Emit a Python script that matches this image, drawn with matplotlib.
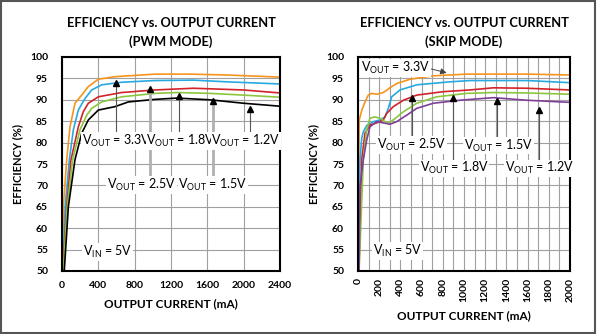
import matplotlib
matplotlib.use('Agg')
import matplotlib.pyplot as plt
from matplotlib.patches import Rectangle

plt.rcParams['font.family'] = ['Lato', 'DejaVu Sans']

# PWM mode curves (mA, %)
pwm_33_i = [2, 15, 52, 88, 143, 217, 290, 400, 583, 1024, 1400, 1813, 2400]
pwm_33_e = [50, 65, 76, 83.7, 89.2, 91.1, 93.1, 94.8, 95.4, 96.0, 96.0, 95.8, 95.3]
pwm_25_i = [6, 35, 81, 125, 180, 253, 327, 437, 657, 1024, 1446, 1813, 2400]
pwm_25_e = [50, 65, 76, 83.0, 87.6, 90.3, 92.3, 93.5, 94.1, 94.5, 94.6, 94.2, 93.7]
pwm_18_i = [10, 50, 99, 180, 234, 290, 400, 657, 1024, 1446, 1996, 2400]
pwm_18_e = [50, 65, 76, 83.7, 87.2, 89.2, 90.7, 91.7, 92.3, 92.7, 92.3, 91.6]
pwm_15_i = [14, 58, 117, 198, 272, 327, 437, 657, 1024, 1263, 1629, 1996, 2400]
pwm_15_e = [50, 65, 76, 83.0, 86.4, 88.0, 89.5, 90.7, 91.5, 91.7, 91.5, 91.1, 90.6]
pwm_12_i = [25, 70, 143, 217, 290, 400, 583, 730, 1024, 1263, 1629, 1996, 2400]
pwm_12_e = [50, 65, 76, 82.2, 85.3, 87.6, 88.4, 89.5, 90.1, 90.4, 90.0, 89.2, 88.5]

# SKIP mode curves (mA, %)
skp_33_i = [2, 5, 12, 35, 66, 97, 129, 176, 239, 302, 365, 491, 711, 1025, 1277, 1600, 2000]
skp_33_e = [50, 70, 85.3, 87.5, 89.5, 91.1, 91.5, 91.3, 91.7, 92.8, 93.8, 94.8, 95.6, 96.0, 96.0, 96.0, 95.8]
skp_25_i = [5, 15, 19, 35, 50, 82, 145, 208, 255, 286, 318, 396, 554, 868, 1057, 1591, 2000]
skp_25_e = [50, 72, 76, 81.0, 82.5, 84.0, 84.9, 85.3, 86.0, 88.0, 90.7, 92.3, 93.5, 94.2, 94.5, 94.5, 94.0]
skp_18_i = [8, 35, 66, 113, 176, 239, 270, 333, 428, 554, 805, 1057, 1277, 1591, 2000]
skp_18_e = [50, 76, 82.2, 84.1, 84.6, 85.3, 86.8, 88.4, 89.9, 91.1, 91.9, 92.3, 92.8, 92.7, 92.3]
skp_15_i = [10, 50, 82, 113, 160, 208, 255, 286, 333, 428, 554, 742, 1025, 1277, 1591, 2000]
skp_15_e = [50, 76, 83.0, 85.7, 86.0, 85.7, 84.9, 84.5, 85.3, 87.2, 89.2, 90.7, 91.5, 91.7, 91.6, 91.3]
skp_12_i = [10, 19, 50, 82, 113, 176, 239, 302, 365, 459, 554, 711, 962, 1277, 1591, 2000]
skp_12_e = [50, 69.7, 76, 80.6, 83.7, 84.9, 84.6, 84.3, 84.9, 86.4, 88.0, 89.2, 89.9, 90.5, 89.9, 89.4]

ORANGE = '#f7941e'
BLUE = '#27aae1'
RED = '#d2232a'
GREEN = '#8cc63f'
PURPLE = '#7e3f98'


def vlab(v):
    return r'V$_{\mathregular{OUT}}$ = ' + v


def setup(ax, xmax, major, minor, title, rot):
    ax.set_xlim(0, xmax)
    ax.set_ylim(50, 100)
    ax.set_xticks(range(0, xmax + 1, major))
    ax.set_xticks(range(0, xmax + 1, minor), minor=True)
    ax.set_yticks(range(50, 101, 5))
    ax.grid(True, which='both', color='#a0a0a0', lw=0.8)
    ax.set_axisbelow(True)
    for s in ax.spines.values():
        s.set_linewidth(1.5)
    ax.tick_params(which='both', length=0)
    ax.tick_params(axis='y', pad=10, labelsize=7.5)
    ax.tick_params(axis='x', pad=7 if rot == 0 else 5, labelsize=7.5, labelrotation=rot)
    for t in ax.get_xticklabels() + ax.get_yticklabels():
        t.set_fontweight('bold')
    ax.set_title(title, fontsize=9.3, fontweight='bold', pad=8, linespacing=1.6)
    ax.set_ylabel('EFFICIENCY (%)', fontsize=8, fontweight='bold', labelpad=5)
    ax.set_xlabel('OUTPUT CURRENT (mA)', fontsize=8.5, fontweight='bold', labelpad=6)


def arrow(ax, x, tip, base, shaft='#555555', lw=0.8):
    ax.plot([x, x], [base, tip - 1], color=shaft, lw=lw, zorder=4)
    ax.plot([x], [tip - 0.9], marker='^', color='black', ms=5, zorder=5)


def label(ax, x, y, s, ha='center'):
    ax.text(x, y, s, fontsize=9, ha=ha, va='center', zorder=6,
            bbox=dict(boxstyle='square,pad=0.05', fc='white', ec='none'))


fig = plt.figure(figsize=(5.97, 3.34), dpi=100)
ax1 = fig.add_axes([62 / 597, 1 - 271 / 334, 218 / 597, 214 / 334])
ax2 = fig.add_axes([358 / 597, 1 - 271 / 334, 212 / 597, 214 / 334])

# left: PWM mode
setup(ax1, 2400, 400, 400, 'EFFICIENCY vs. OUTPUT CURRENT\n(PWM MODE)', 0)
ax1.plot(pwm_33_i, pwm_33_e, color=ORANGE, lw=1.2)
ax1.plot(pwm_25_i, pwm_25_e, color=BLUE, lw=1.2)
ax1.plot(pwm_18_i, pwm_18_e, color=RED, lw=1.2)
ax1.plot(pwm_15_i, pwm_15_e, color=GREEN, lw=1.2)
ax1.plot(pwm_12_i, pwm_12_e, color='black', lw=1.2)

arrow(ax1, 590, 94.8, 82.2)
arrow(ax1, 969, 93.5, 72.4, shaft='#b0b0b0', lw=2)
arrow(ax1, 1291, 91.9, 82.2)
arrow(ax1, 1659, 90.7, 72.4, shaft='#b0b0b0', lw=2)
arrow(ax1, 2070, 88.8, 82.2)
label(ax1, 595, 80.4, vlab('3.3V'))
label(ax1, 1310, 80.4, vlab('1.8V'))
label(ax1, 2026, 80.4, vlab('1.2V'))
label(ax1, 875, 70.1, vlab('2.5V'))
label(ax1, 1662, 70.1, vlab('1.5V'))
label(ax1, 231, 54.4, r'V$_{\mathregular{IN}}$ = 5V', ha='left')

# right: SKIP mode
setup(ax2, 2000, 200, 100, 'EFFICIENCY vs. OUTPUT CURRENT\n(SKIP MODE)', 90)
ax2.plot(skp_33_i, skp_33_e, color=ORANGE, lw=1.2)
ax2.plot(skp_25_i, skp_25_e, color=BLUE, lw=1.2)
ax2.plot(skp_18_i, skp_18_e, color=RED, lw=1.2)
ax2.plot(skp_15_i, skp_15_e, color=GREEN, lw=1.2)
ax2.plot(skp_12_i, skp_12_e, color=PURPLE, lw=1.2)

ax2.annotate('', xy=(837, 96.3), xytext=(660, 97.4), zorder=5,
             arrowprops=dict(arrowstyle='-|>', color='#444444', lw=0.7,
                             mutation_scale=9, shrinkA=0, shrinkB=0))
label(ax2, 358, 97.4, vlab('3.3V'))
arrow(ax2, 506, 91.4, 81.3)
arrow(ax2, 1314, 90.7, 81.3)
arrow(ax2, 900, 91.4, 75.9)
arrow(ax2, 1708, 88.6, 75.9)
label(ax2, 505, 79.4, vlab('2.5V'))
label(ax2, 1325, 79.3, vlab('1.5V'))
label(ax2, 906, 74.0, vlab('1.8V'))
label(ax2, 1708, 74.0, vlab('1.2V'))
label(ax2, 142, 54.7, r'V$_{\mathregular{IN}}$ = 5V', ha='left')

fig.patches.append(Rectangle((0.002, 0.003), 0.995, 0.994, transform=fig.transFigure,
                             fill=False, ec='#555555', lw=1.5))

fig.savefig('out.png', dpi=100)
